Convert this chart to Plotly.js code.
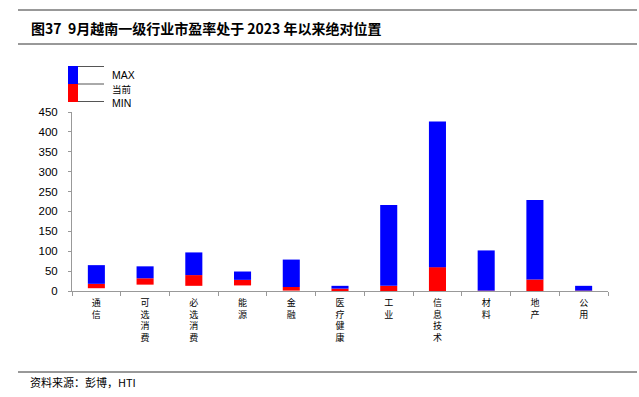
<!DOCTYPE html>
<html>
<head>
<meta charset="utf-8">
<script src="https://cdn.plot.ly/plotly-3.0.1.min.js"></script>
<style>html,body{margin:0;padding:0;background:#fff;}#chart{width:639px;height:397px;}</style>
</head>
<body>
<div id="chart"></div>
<script>
const categories = ['通信','可选消费','必选消费','能源','金融','医疗健康','工业','信息技术','材料','地产','公用'];
const minVals = [7, 16, 13, 14, 1, 0, 0, 0, 0, 0, 0];
const curVals = [18, 32, 40, 28, 10, 6, 13, 60, 1, 29, 1];
const maxVals = [65, 62, 97, 49, 79, 13, 216, 426, 102, 229, 13];
const yTicks = [0, 50, 100, 150, 200, 250, 300, 350, 400, 450];
const legendLabels = ['MAX', '当前', 'MIN'];
const titleText = '图37  9月越南一级行业市盈率处于 2023 年以来绝对位置';
const sourceText = '资料来源：彭博，HTI';

const L = 72, R = 608, T = 112, B = 291, W = 639, H = 397;
const px = x => (x - L) / (R - L);
const py = y => (B - y) / (B - T);

const redTrace = {
  type: 'bar', x: categories,
  base: minVals,
  y: curVals.map((c, i) => c - minVals[i]),
  marker: {color: '#FF0000', line: {width: 0}},
  width: 0.35, hoverinfo: 'skip', showlegend: false
};
const blueTrace = {
  type: 'bar', x: categories,
  base: curVals,
  y: maxVals.map((m, i) => m - curVals[i]),
  marker: {color: '#0000FF', line: {width: 0}},
  width: 0.35, hoverinfo: 'skip', showlegend: false
};

const cjk = '"Noto Sans CJK SC", "Liberation Sans", Arial, sans-serif';
const latin = '"Liberation Sans", Arial, sans-serif';
const shapes = [
  {type:'line', xref:'paper', yref:'paper', x0:px(18), x1:px(637), y0:py(10), y1:py(10), line:{color:'#333', width:1}},
  {type:'line', xref:'paper', yref:'paper', x0:px(18), x1:px(637), y0:py(44), y1:py(44), line:{color:'#333', width:1}},
  {type:'line', xref:'paper', yref:'paper', x0:px(18), x1:px(637), y0:py(372), y1:py(372), line:{color:'#333', width:1}},
  {type:'line', xref:'paper', yref:'paper', x0:px(68), x1:px(104), y0:py(66.5), y1:py(66.5), line:{color:'#555', width:1}},
  {type:'line', xref:'paper', yref:'paper', x0:px(68), x1:px(104), y0:py(84), y1:py(84), line:{color:'#555', width:1}},
  {type:'line', xref:'paper', yref:'paper', x0:px(68), x1:px(104), y0:py(101.5), y1:py(101.5), line:{color:'#555', width:1}},
  {type:'rect', xref:'paper', yref:'paper', x0:px(68), x1:px(78), y0:py(66), y1:py(84), fillcolor:'#0000FF', line:{width:0}},
  {type:'rect', xref:'paper', yref:'paper', x0:px(68), x1:px(78), y0:py(84), y1:py(102), fillcolor:'#FF0000', line:{width:0}}
];
const legendY = [75, 89, 103];
const legendFonts = [
  {family: latin, size: 10.5, color: '#000'},
  {family: cjk, size: 9.5, color: '#000'},
  {family: latin, size: 10.5, color: '#000'}
];
const annotations = [
  {xref:'paper', yref:'paper', x:px(29), y:py(28), xanchor:'left', yanchor:'middle', showarrow:false,
   text:'<b>' + titleText + '</b>', font:{family:cjk, size:14, color:'#000'}},
  {xref:'paper', yref:'paper', x:px(28), y:py(382), xanchor:'left', yanchor:'middle', showarrow:false,
   text:sourceText, font:{family:cjk, size:11, color:'#000'}}
].concat(legendLabels.map((t, i) => ({
  xref:'paper', yref:'paper', x:px(110), y:py(legendY[i]), xanchor:'left', yanchor:'middle', showarrow:false,
  text:t, font:legendFonts[i], height: 12
})));

const layout = {
  width: W, height: H,
  margin: {l: L, r: W - R, t: T, b: H - B, pad: 0},
  paper_bgcolor: '#fff', plot_bgcolor: '#fff',
  barmode: 'overlay',
  showlegend: false,
  xaxis: {
    type: 'category', tickson: 'boundaries', ticks: 'outside', ticklen: 4, tickcolor: '#999',
    tickvals: categories, ticktext: categories.map(c => c.split('').join('<br>')),
    tickfont: {family: cjk, size: 9, color: '#000'},
    showline: true, linecolor: '#999', linewidth: 1, showgrid: false, zeroline: false,
    tickangle: 0, ticklabelstandoff: 3, fixedrange: true
  },
  yaxis: {
    range: [0, 450], tickvals: yTicks, ticks: 'outside', ticklen: 3, tickcolor: '#999',
    tickfont: {family: latin, size: 11.5, color: '#000'},
    showline: true, linecolor: '#999', linewidth: 1, showgrid: false, zeroline: false,
    ticklabelstandoff: 8, fixedrange: true
  },
  shapes: shapes,
  annotations: annotations
};

Plotly.newPlot('chart', [redTrace, blueTrace], layout, {staticPlot: true, displayModeBar: false});
</script>
</body>
</html>
